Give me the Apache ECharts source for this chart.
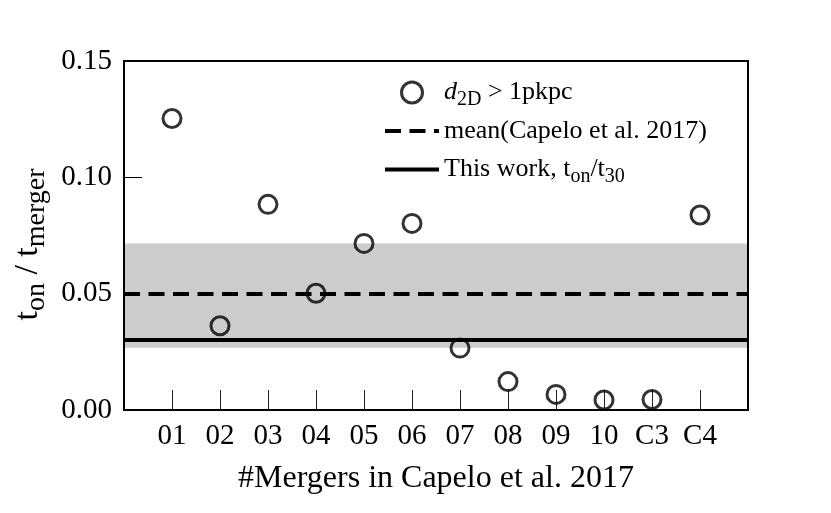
<!DOCTYPE html>
<html>
<head>
<meta charset="utf-8">
<script src="https://cdn.jsdelivr.net/npm/echarts@6/dist/echarts.min.js"></script>
<style>
  html, body { margin: 0; padding: 0; background: #fff; }
  #chart { width: 831px; height: 513px; }
</style>
</head>
<body>
<div id="chart"></div>
<script>
// merger ids along x
const mergers = ["01", "02", "03", "04", "05", "06", "07", "08", "09", "10", "C3", "C4"];
// t_on / t_merger for d_2D > 1pkpc
const tonRatio = [0.1253, 0.0362, 0.0884, 0.0502, 0.0716, 0.0802, 0.0266, 0.0122, 0.0067, 0.0043, 0.0045, 0.0838];
const meanCapelo = 0.0493;
const bandCapelo = [0.0268, 0.0716];
const thisWork = 0.0303;
const yTicks = [0, 0.05, 0.1, 0.15];

const FONT = "Liberation Serif";
const subStyle = { fontSize: 20, fontFamily: FONT, color: "#000", lineHeight: 34, padding: [15, 0, 0, 0] };
const noSymbol = { color: "transparent", borderColor: "transparent", borderWidth: 0 };

let myChart = echarts.init(document.getElementById("chart"));
myChart.setOption({
  animation: false,
  backgroundColor: "#fff",
  grid: {
    left: 124,
    top: 61,
    right: 83,
    bottom: 103,
    outerBoundsMode: "none",
    containLabel: false,
    show: true,
    z: 10,
    borderColor: "#000",
    borderWidth: 2,
    backgroundColor: "transparent",
  },
  legend: {
    orient: "vertical",
    left: 383,
    top: 75,
    padding: 0,
    itemWidth: 54,
    itemHeight: 21,
    itemGap: 4,
    itemTextGap: 5,
    textStyle: {
      fontFamily: FONT,
      fontSize: 26,
      color: "#000",
      lineHeight: 34,
      rich: {
        it: { fontFamily: FONT, fontSize: 26, fontStyle: "italic", color: "#000", lineHeight: 34 },
        sub: subStyle,
      },
    },
    formatter: function (name) {
      if (name === "d2D") return "{it|d}{sub|2D} > 1pkpc";
      if (name === "thisWork") return "This work, t{sub|on}/t{sub|30}";
      return name;
    },
    data: [
      { name: "d2D", icon: "circle", itemStyle: { color: "transparent", borderColor: "#000", borderWidth: 3 } },
      { name: "mean(Capelo et al. 2017)", itemStyle: noSymbol, lineStyle: { color: "#000", width: 4, type: [16, 8.5] } },
      { name: "thisWork", itemStyle: noSymbol, lineStyle: { color: "#000", width: 4, type: "solid" } },
    ],
  },
  xAxis: {
    type: "value",
    min: 0,
    max: mergers.length + 1,
    interval: 1,
    name: "#Mergers in Capelo et al. 2017",
    nameLocation: "middle",
    nameGap: 53,
    nameTextStyle: { fontFamily: FONT, fontSize: 32, color: "#000" },
    axisLine: { show: false },
    axisTick: { show: true, inside: true, length: 20, lineStyle: { color: "#222", width: 1 } },
    axisLabel: {
      margin: 12,
      fontFamily: FONT,
      fontSize: 29,
      color: "#000",
      formatter: function (v) {
        return mergers[v - 1] || "";
      },
    },
    splitLine: { show: false },
  },
  yAxis: {
    type: "value",
    min: yTicks[0],
    max: yTicks[yTicks.length - 1],
    interval: 0.05,
    name: "t{sub|on} / t{sub|merger}",
    nameLocation: "middle",
    nameRotate: 90,
    nameGap: 76,
    nameTextStyle: {
      fontFamily: FONT,
      fontSize: 34,
      color: "#000",
      lineHeight: 40,
      padding: [0, 18, 0, 0],
      rich: {
        sub: { fontSize: 28, fontFamily: FONT, color: "#000", lineHeight: 40, padding: [17, 0, 0, 0] },
      },
    },
    axisLine: { show: false },
    axisTick: { show: true, inside: true, length: 18, lineStyle: { color: "#000", width: 1 } },
    axisLabel: {
      margin: 12,
      fontFamily: FONT,
      fontSize: 29,
      color: "#000",
      formatter: function (v) {
        return v.toFixed(2);
      },
    },
    splitLine: { show: false },
  },
  series: [
    {
      name: "mean(Capelo et al. 2017)",
      type: "line",
      data: [],
      symbol: "none",
      color: "#000",
      lineStyle: { color: "#000", width: 4, type: [16, 8.5] },
      markArea: {
        silent: true,
        itemStyle: { color: "#cccccc" },
        data: [[{ yAxis: bandCapelo[0] }, { yAxis: bandCapelo[1] }]],
      },
      markLine: {
        silent: true,
        symbol: "none",
        label: { show: false },
        lineStyle: { color: "#000", width: 4, type: [16, 8.5] },
        data: [{ yAxis: meanCapelo }],
      },
    },
    {
      name: "thisWork",
      type: "line",
      data: [],
      symbol: "none",
      color: "#000",
      lineStyle: { color: "#000", width: 4, type: "solid" },
      markLine: {
        silent: true,
        symbol: "none",
        label: { show: false },
        lineStyle: { color: "#000", width: 4, type: "solid" },
        data: [{ yAxis: thisWork }],
      },
    },
    {
      name: "d2D",
      type: "scatter",
      symbol: "circle",
      symbolSize: 18,
      itemStyle: { color: "transparent", borderColor: "#000", borderWidth: 3 },
      data: tonRatio.map(function (v, i) {
        return [i + 1, v];
      }),
    },
  ],
});
</script>
</body>
</html>
